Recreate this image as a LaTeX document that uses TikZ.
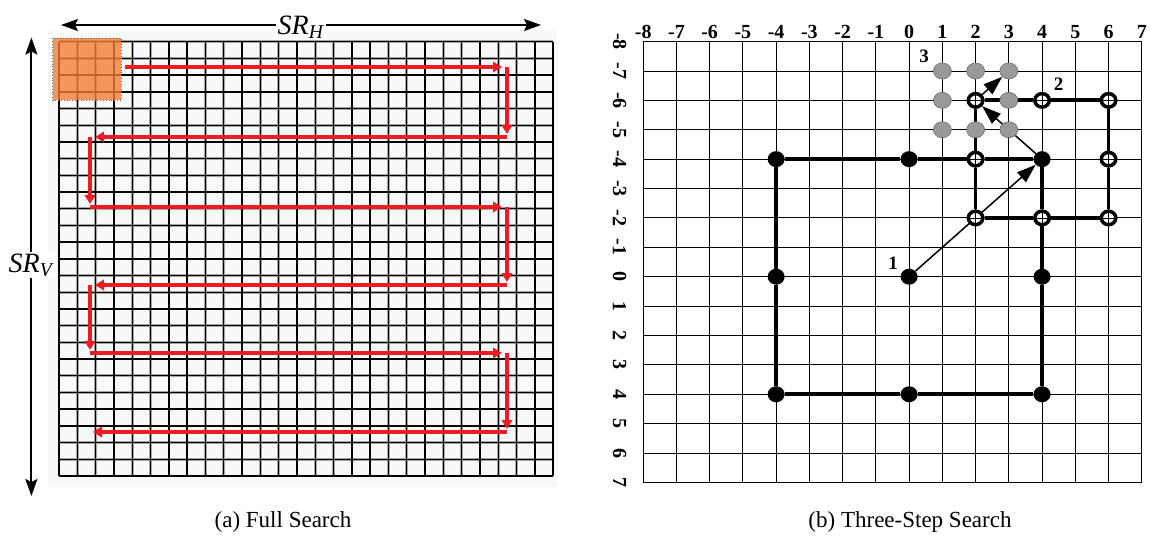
\documentclass[tikz,border=0pt]{standalone}
\usepackage{fontspec}
\setmainfont{Liberation Serif}
\usetikzlibrary{arrows.meta,shapes.geometric}
\definecolor{bgc}{RGB}{247,249,249}
\definecolor{redc}{RGB}{237,28,36}
\definecolor{orangec}{RGB}{242,125,55}
\definecolor{dotgrey}{RGB}{153,153,153}
\definecolor{dotgreyline}{RGB}{110,110,110}
\tikzset{
  lgridhalo/.style={line width=2.6pt, black!35},
  lgrid/.style={line width=1.4pt, black},
  orangebox/.style={fill=orangec, fill opacity=0.8, draw=black!60, dotted, line width=0.8pt},
  redarr/.style={draw=redc, line width=3.6pt, line cap=square, -{Triangle[length=9pt,width=10.5pt]}},
  bigarr/.style={line width=2pt, {Stealth[length=17pt,width=12pt,inset=3pt]}-{Stealth[length=17pt,width=12pt,inset=3pt]}},
  srlab/.style={fill=white, inner sep=1.5pt, font=\fontsize{28}{30}\selectfont},
  capstyle/.style={font=\fontsize{23}{25}\selectfont, inner sep=0pt},
  rgrid/.style={line width=0.9pt, black},
  thickln/.style={line width=3.8pt, black},
  bdot/.style={ellipse, fill=black, minimum width=17pt, minimum height=16pt, inner sep=0pt},
  ringdot/.style={ellipse, draw=black, line width=3.5pt, fill=white, minimum width=14.5pt, minimum height=13.5pt, inner sep=0pt,
    path picture={\draw[line width=0.8pt] (path picture bounding box.north) -- (path picture bounding box.south)
      (path picture bounding box.west) -- (path picture bounding box.east);}},
  gdot/.style={ellipse, fill=dotgrey, draw=dotgreyline, line width=0.6pt, minimum width=18pt, minimum height=16pt, inner sep=0pt},
  axlab/.style={font=\fontsize{20}{20}\selectfont\bfseries, inner sep=0pt},
  ptlab/.style={font=\fontsize{19}{19}\selectfont\bfseries, inner sep=0pt},
  blkarr/.style={line width=1.5pt, -{Triangle[length=19pt,width=13pt]}}
}
\begin{document}
\begin{tikzpicture}[x=1pt,y=-1pt]
\useasboundingbox (0,0) rectangle (1151,541);
% ---------------- left panel: full search ----------------
\fill[bgc] (48.3,30) rectangle (557,487);
\foreach \k in {0,...,27}{\draw[lgridhalo] ({59+18.3*\k},41.7) -- ({59+18.3*\k},475.9);}
\foreach \k in {0,...,26}{\draw[lgridhalo] (59,{41.7+16.7*\k}) -- (553.1,{41.7+16.7*\k});}
\foreach \k in {0,...,27}{\draw[lgrid] ({59+18.3*\k},41.7) -- ({59+18.3*\k},475.9);}
\foreach \k in {0,...,26}{\draw[lgrid] (59,{41.7+16.7*\k}) -- (553.1,{41.7+16.7*\k});}
\draw[orangebox] (52.7,38.3) rectangle (121,100);
% red scan path
\coordinate (s0) at (125,67);
\coordinate (c1) at (507,67);
\coordinate (c2) at (507,137);
\coordinate (c3) at (90,137);
\coordinate (c4) at (90,207);
\coordinate (c5) at (507,207);
\coordinate (c6) at (507,285);
\coordinate (c7) at (90,285);
\coordinate (c8) at (90,353);
\coordinate (c9) at (507,353);
\coordinate (c10) at (507,432);
\coordinate (c11) at (93,432);
\draw[redarr, shorten >=5pt] (s0) -- (c1);
\draw[redarr, shorten >=3pt] (c1) -- (c2);
\draw[redarr, shorten >=5pt] (c2) -- (c3);
\draw[redarr, shorten >=3pt] (c3) -- (c4);
\draw[redarr, shorten >=5pt] (c4) -- (c5);
\draw[redarr, shorten >=3pt] (c5) -- (c6);
\draw[redarr, shorten >=5pt] (c6) -- (c7);
\draw[redarr, shorten >=3pt] (c7) -- (c8);
\draw[redarr, shorten >=5pt] (c8) -- (c9);
\draw[redarr, shorten >=3pt] (c9) -- (c10);
\draw[redarr] (c10) -- (c11);
% range arrows
\coordinate (hl) at (61,25);
\coordinate (hr) at (541,25);
\draw[bigarr] (hl) -- (hr);
\node[srlab, anchor=base] (srh) at (301,34) {\textit{SR}\textsubscript{\textit{H}}};
\coordinate (vt) at (31.4,37.5);
\coordinate (vb) at (31.4,496);
\draw[bigarr] (vt) -- (vb);
\node[srlab, anchor=base west] (srv) at (7,272) {\textit{SR}\textsubscript{\textit{V}}};
\node[capstyle] (capa) at (283,522) {(a) Full Search};
\node[capstyle] (capb) at (910,522) {(b) Three-Step Search};
% ---------------- right panel: three-step search ----------------
\begin{scope}[shift={(909.1pt,-276.7pt)}, x=33.24pt, y=-29.39pt]
  \foreach \i in {-8,...,7}{\draw[rgrid] (\i,-8) -- (\i,7);}
  \foreach \j in {-8,...,7}{\draw[rgrid] (-8,\j) -- (7,\j);}
  \foreach \i in {-8,...,7}{\node[axlab] (xl\i) at (\i,-8.33) {\i};}
  \foreach \j in {-8,...,7}{\node[axlab, rotate=-90] (yl\j) at (-8.71,\j) {\j};}
  % step 1
  \node[bdot] (a1) at (-4,-4) {};
  \node[bdot] (a2) at (0,-4) {};
  \node[bdot] (a3) at (4,-4) {};
  \node[bdot] (a4) at (-4,0) {};
  \node[bdot] (a5) at (0,0) {};
  \node[bdot] (a6) at (4,0) {};
  \node[bdot] (a7) at (-4,4) {};
  \node[bdot] (a8) at (0,4) {};
  \node[bdot] (a9) at (4,4) {};
  \draw[blkarr] (a5) -- (a3);
  % step 2
  \node[ringdot] (b1) at (2,-6) {};
  \node[ringdot] (b2) at (4,-6) {};
  \node[ringdot] (b3) at (6,-6) {};
  \node[ringdot] (b4) at (2,-4) {};
  \node[ringdot] (b5) at (6,-4) {};
  \node[ringdot] (b6) at (2,-2) {};
  \node[ringdot] (b7) at (4,-2) {};
  \node[ringdot] (b8) at (6,-2) {};
  % thick search squares
  \draw[thickln] (a1) -- (a2);
  \draw[thickln] (a2) -- (b4);
  \draw[thickln] (b4) -- (a3);
  \draw[thickln] (a3) -- (b7);
  \draw[thickln] (b7) -- (a6);
  \draw[thickln] (a6) -- (a9);
  \draw[thickln] (a9) -- (a8);
  \draw[thickln] (a8) -- (a7);
  \draw[thickln] (a7) -- (a4);
  \draw[thickln] (a4) -- (a1);
  \draw[thickln] (b1) -- (b2);
  \draw[thickln] (b2) -- (b3);
  \draw[thickln] (b3) -- (b5);
  \draw[thickln] (b5) -- (b8);
  \draw[thickln] (b8) -- (b7);
  \draw[thickln] (b7) -- (b6);
  \draw[thickln] (b6) -- (b4);
  \draw[thickln] (b4) -- (b1);
  \draw[blkarr] (a3) -- (b1);
  % step 3
  \node[gdot] (g1) at (1,-7) {};
  \node[gdot] (g2) at (2,-7) {};
  \node[gdot] (g3) at (3,-7) {};
  \node[gdot] (g4) at (1,-6) {};
  \node[gdot] (g5) at (3,-6) {};
  \node[gdot] (g6) at (1,-5) {};
  \node[gdot] (g7) at (2,-5) {};
  \node[gdot] (g8) at (3,-5) {};
  \draw[blkarr] (b1) -- (g3);
  % step labels
  \node[ptlab] (l1) at (-0.48,-0.47) {1};
  \node[ptlab] (l2) at (4.5,-6.55) {2};
  \node[ptlab] (l3) at (0.45,-7.5) {3};
\end{scope}
\end{tikzpicture}
\end{document}
